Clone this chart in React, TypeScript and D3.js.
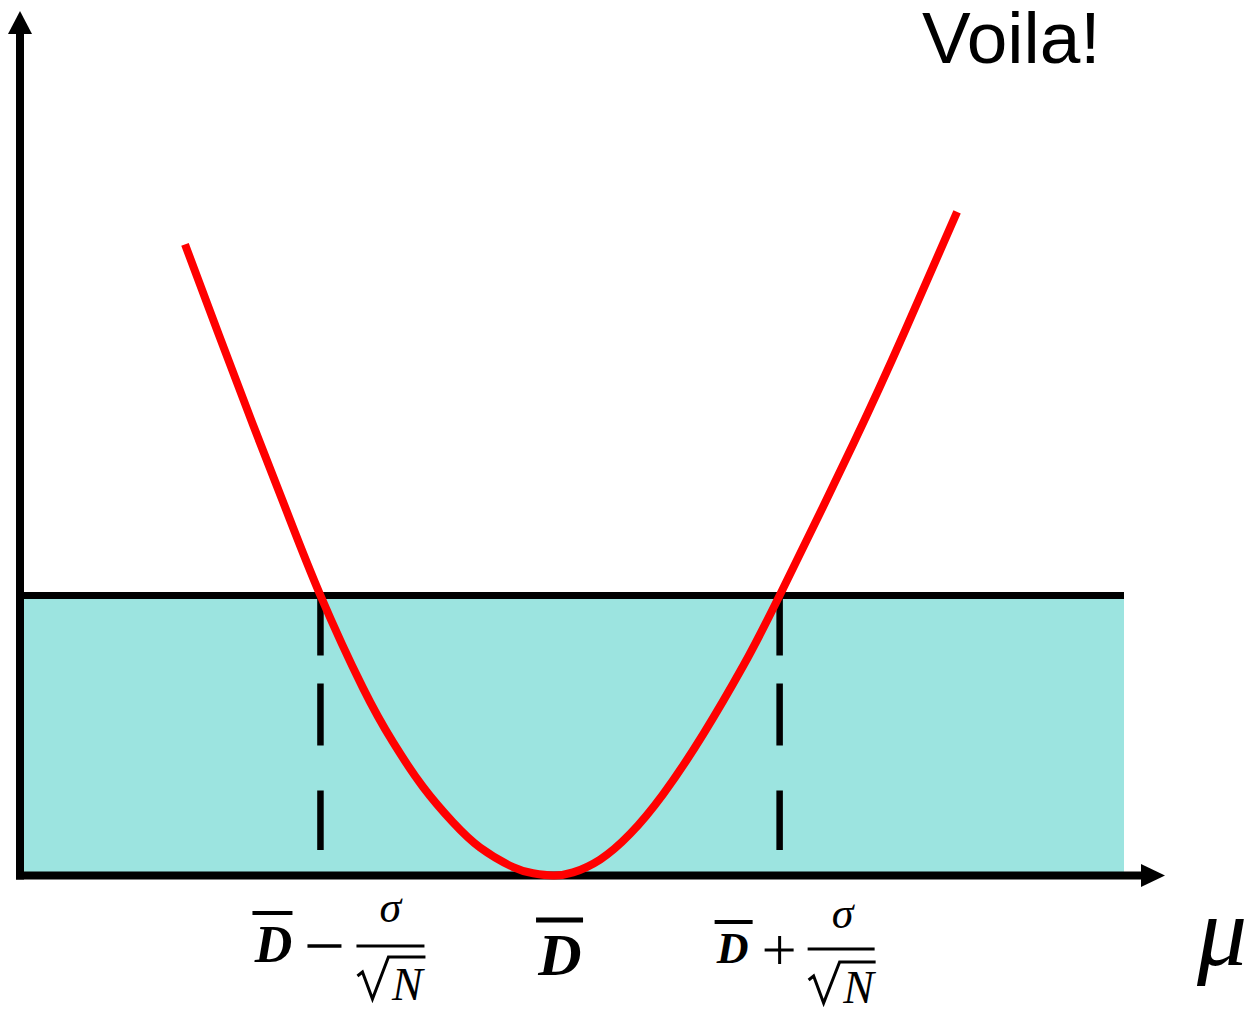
import React from "react";
import * as d3 from "d3";

// Likelihood-style curve: chi-square offset vs. the parameter mu,
// where 0 is the sample mean D̄ and 1 unit is sigma/sqrt(N).
const MU = [
  -1.59, -1.442, -1.294, -1.15, -1.0, -0.815, -0.684, -0.553, -0.423, -0.305, -0.161,
  -0.074, 0.013, 0.1, 0.218, 0.348, 0.492, 0.666, 0.841, 1.0, 1.32, 1.546, 1.773,
];
const CHI = [
  2.254, 1.93, 1.61, 1.307, 1.0, 0.67, 0.476, 0.316, 0.19, 0.1, 0.03,
  0.008, 0.0, 0.011, 0.057, 0.148, 0.29, 0.503, 0.748, 1.0, 1.54, 1.945, 2.37,
];

// Interval bounds and threshold level
const INTERVAL = [-1, 1];
const THRESHOLD = 1;
const CENTER = 0;

const X_DOMAIN = [-2.3, 2.5];
const Y_DOMAIN = [0, 3];

const TITLE = "Voila!";
const AXIS_LABEL = "μ";

const W = 1256;
const H = 1009;

export default function App() {
  const x = d3.scaleLinear().domain(X_DOMAIN).range([22, 1124]);
  const y = d3.scaleLinear().domain(Y_DOMAIN).range([875.5, 35.5]);

  const pts: [number, number][] = MU.map((m, i) => [m, CHI[i]]);
  const line = d3
    .line<[number, number]>()
    .x((d) => x(d[0]))
    .y((d) => y(d[1]))
    .curve(d3.curveNatural);

  const x0 = 20;
  const yBase = y(0);
  const yThr = y(THRESHOLD);
  const xRight = x(X_DOMAIN[1]);

  const serif = "'Liberation Serif', 'DejaVu Serif', serif";
  const sans = "'Liberation Sans', Arial, sans-serif";

  const xl = x(INTERVAL[0]);
  const xr = x(INTERVAL[1]);
  const xc = x(CENTER);

  return (
    <svg
      width={W}
      height={H}
      style={{ position: "absolute", left: 0, top: 0, background: "#fff" }}
    >
      {/* allowed region below the threshold */}
      <rect
        x={x0}
        y={yThr}
        width={xRight - x0}
        height={yBase - yThr}
        fill="#9ce4e0"
      />
      <line x1={x0} x2={xRight} y1={yThr} y2={yThr} stroke="#000" strokeWidth={7} />

      {/* interval bounds */}
      {INTERVAL.map((v, i) => (
        <line
          key={i}
          x1={x(v)}
          x2={x(v)}
          y1={yThr + 3}
          y2={850}
          stroke="#000"
          strokeWidth={6.5}
          strokeDasharray="57 28 62 45 60"
        />
      ))}

      {/* axes */}
      <line x1={x0} x2={x0} y1={yBase + 4} y2={32} stroke="#000" strokeWidth={8} />
      <polygon points={`${x0 - 12},34 ${x0},11 ${x0 + 12},34`} fill="#000" />
      <line x1={x0 - 4} x2={1142} y1={yBase} y2={yBase} stroke="#000" strokeWidth={8} />
      <polygon
        points={`1141,${yBase - 11.5} 1165,${yBase} 1141,${yBase + 11.5}`}
        fill="#000"
      />

      {/* curve */}
      <path d={line(pts) || ""} fill="none" stroke="#ff0000" strokeWidth={8} />

      {/* title */}
      <text x={922} y={63} fontFamily={sans} fontSize={73} fill="#000">
        {TITLE}
      </text>

      {/* axis label */}
      <text
        x={1222}
        y={965}
        textAnchor="middle"
        fontFamily={serif}
        fontStyle="italic"
        fontSize={100}
        fill="#000"
      >
        {AXIS_LABEL}
      </text>

      {/* D̄ − σ/√N */}
      <g transform={`translate(${xl},0)`}>
        <line x1={-68} x2={-28} y1={913} y2={913} stroke="#000" strokeWidth={4} />
        <text x={-47} y={962} textAnchor="middle" fontFamily={serif} fontWeight="bold" fontStyle="italic" fontSize={52}>
          D
        </text>
        <line x1={-13} x2={21} y1={946} y2={946} stroke="#000" strokeWidth={3.5} />
        <text x={70} y={922} textAnchor="middle" fontFamily={serif} fontStyle="italic" fontSize={44}>
          σ
        </text>
        <line x1={36} x2={104} y1={946} y2={946} stroke="#000" strokeWidth={3} />
        <path d="M37,976 L42,972 L52,999 L68,957 L105,957" fill="none" stroke="#000" strokeWidth={3} />
        <text x={87} y={1000} textAnchor="middle" fontFamily={serif} fontStyle="italic" fontSize={46}>
          N
        </text>
      </g>

      {/* D̄ */}
      <g transform={`translate(${xc},0)`}>
        <line x1={-14} x2={33} y1={920} y2={920} stroke="#000" strokeWidth={5} />
        <text x={10} y={975} textAnchor="middle" fontFamily={serif} fontWeight="bold" fontStyle="italic" fontSize={60}>
          D
        </text>
      </g>

      {/* D̄ + σ/√N */}
      <g transform={`translate(${xr},0)`}>
        <line x1={-65} x2={-27} y1={922} y2={922} stroke="#000" strokeWidth={4} />
        <text x={-47} y={963} textAnchor="middle" fontFamily={serif} fontWeight="bold" fontStyle="italic" fontSize={44}>
          D
        </text>
        <line x1={-15} x2={14} y1={950} y2={950} stroke="#000" strokeWidth={3} />
        <line x1={0} x2={0} y1={936} y2={964} stroke="#000" strokeWidth={3} />
        <text x={63} y={928} textAnchor="middle" fontFamily={serif} fontStyle="italic" fontSize={44}>
          σ
        </text>
        <line x1={28} x2={95} y1={949} y2={949} stroke="#000" strokeWidth={3} />
        <path d="M29,980 L34,976 L44,1003 L60,962 L96,962" fill="none" stroke="#000" strokeWidth={3} />
        <text x={79} y={1003} textAnchor="middle" fontFamily={serif} fontStyle="italic" fontSize={46}>
          N
        </text>
      </g>
    </svg>
  );
}
